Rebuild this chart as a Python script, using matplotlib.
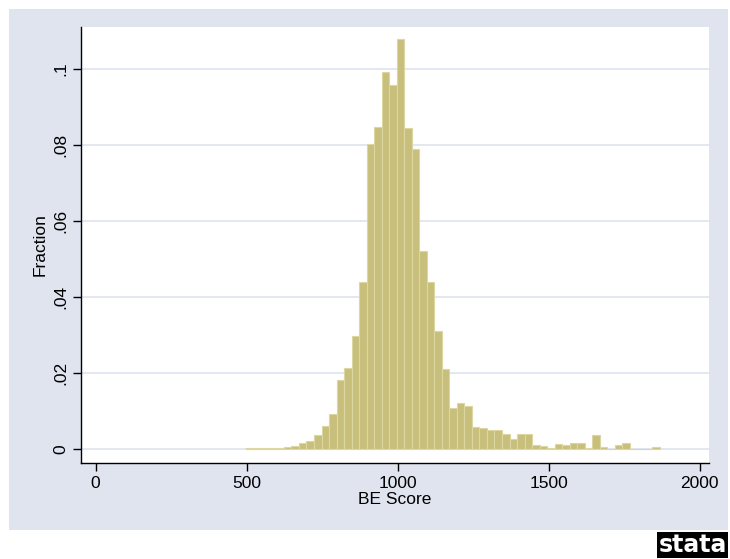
import numpy as np
import matplotlib.pyplot as plt
from matplotlib.patches import Rectangle

plt.rcParams['font.family'] = ['Liberation Sans', 'DejaVu Sans']

# --- Histogram data (fraction per bin) ---
bin_start = 499.0
bin_width = 24.9
fraction = [
    0.0003, 0.0002, 0.0002, 0.0003, 0.0003, 0.0005, 0.0009, 0.0015, 0.0022, 0.0037,
    0.0061, 0.0093, 0.0180, 0.0214, 0.0297, 0.0439, 0.0801, 0.0847, 0.0992, 0.0957,
    0.1077, 0.0845, 0.0789, 0.0520, 0.0438, 0.0310, 0.0209, 0.0108, 0.0122, 0.0113,
    0.0057, 0.0056, 0.0051, 0.0050, 0.0038, 0.0026, 0.0040, 0.0040, 0.0010, 0.0008,
    0.0003, 0.0014, 0.0010, 0.0015, 0.0015, 0.0003, 0.0036, 0.0005, 0.0000, 0.0011,
    0.0015, 0.0000, 0.0000, 0.0000, 0.0006,
]
edges = bin_start + bin_width * np.arange(len(fraction) + 1)

x_ticks = [0, 500, 1000, 1500, 2000]
y_ticks = [0, 0.02, 0.04, 0.06, 0.08, 0.1]
y_labels = ['0', '.02', '.04', '.06', '.08', '.1']

# --- Colours (Stata s2color look) ---
bg = '#dfe4ee'
grid_col = '#dde3ef'
bar_face = '#c8bf7c'
bar_edge = '#dcd7a1'

W, H = 730, 559
fig = plt.figure(figsize=(W / 100, H / 100), dpi=100, facecolor='white')
fig.patches.append(Rectangle((9 / W, 1 - 530 / H), (728 - 9) / W, (530 - 9) / H,
                             transform=fig.transFigure, facecolor=bg,
                             edgecolor='none', zorder=-10))

ax = fig.add_axes([80.5 / W, 1 - 463 / H, (709 - 80.5) / W, (463 - 26.5) / H])
ax.set_facecolor('white')

ax.bar(edges[:-1], fraction, width=bin_width, align='edge',
       color=bar_face, edgecolor=bar_edge, linewidth=0.8, zorder=3)

ax.set_xlim(-50, 2031)
ax.set_ylim(-0.0037, 0.1111)
ax.set_xticks(x_ticks)
ax.set_xticklabels([str(t) for t in x_ticks])
ax.set_yticks(y_ticks)
ax.set_yticklabels(y_labels, rotation=90, va='center')
ax.yaxis.grid(True, color=grid_col, linewidth=1.2, zorder=1)
ax.set_axisbelow(True)

for side in ['top', 'right']:
    ax.spines[side].set_visible(False)
for side in ['left', 'bottom']:
    ax.spines[side].set_linewidth(1.0)
ax.tick_params(axis='both', direction='out', length=6, width=1,
               labelsize=12.5, pad=3)

ax.set_xlabel('BE Score', fontsize=12.5, labelpad=1)
ax.set_ylabel('Fraction', fontsize=12.5, labelpad=4)

# Stata logo at the bottom right
fig.text(727 / W, 1 - 545 / H, 'stata', ha='right', va='center', color='white',
         fontsize=17, fontweight='bold', family='DejaVu Sans',
         bbox=dict(facecolor='black', edgecolor='none', pad=1.0))

fig.savefig('out.png', dpi=100, facecolor='white')
